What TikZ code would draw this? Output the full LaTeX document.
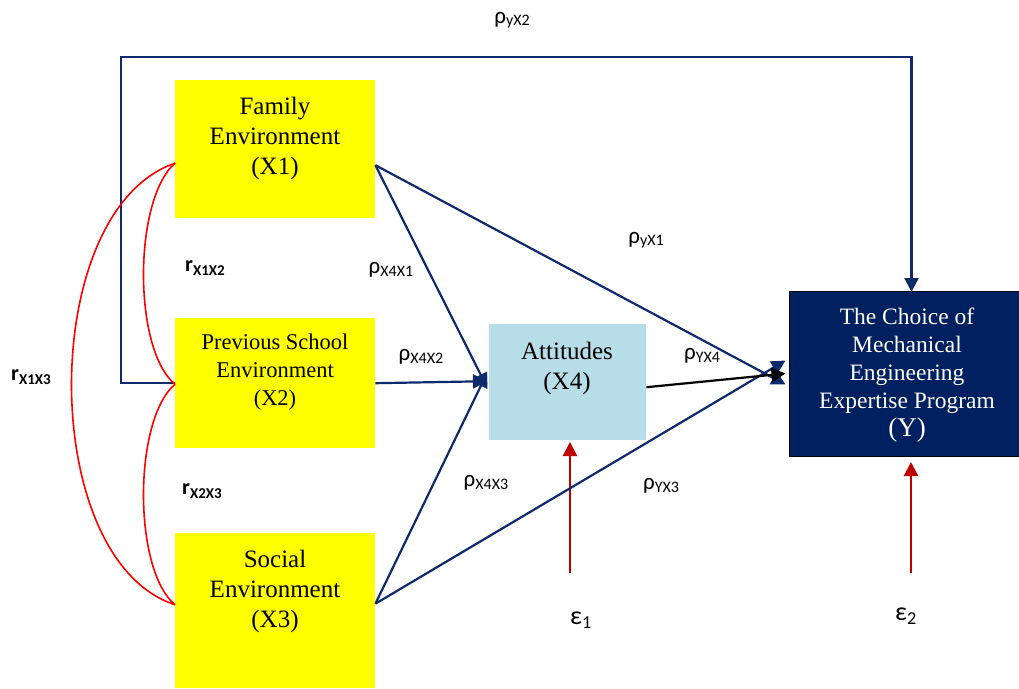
\documentclass[tikz,border=0pt]{standalone}
\usepackage{fontspec}
\setmainfont{Liberation Serif}
\newfontfamily\lab{Carlito}
\usetikzlibrary{arrows.meta,calc}
\definecolor{ylw}{HTML}{FFFF00}
\definecolor{lblue}{HTML}{B7DDE8}
\definecolor{navy}{HTML}{002060}
\definecolor{lnavy}{HTML}{0F2A6B}
\definecolor{dred}{HTML}{C00000}
\definecolor{rred}{HTML}{FF0000}
\newcommand{\sbs}[1]{\raisebox{-2.5pt}{\fontsize{16}{18}\selectfont #1}}
\newcommand{\rsbs}[1]{\raisebox{-4pt}{\fontsize{15}{18}\selectfont #1}}
\tikzset{
  box/.style={rectangle, inner sep=0pt, anchor=north west},
  txt/.style={align=center, inner sep=0pt},
  big/.style={font=\fontsize{25}{30}\selectfont},
  small/.style={font=\fontsize{22.5}{28}\selectfont},
  arr/.style={draw=lnavy, line width=2.2pt, -{Triangle[length=14pt,width=14pt]}},
  earr/.style={draw=dred, line width=2.2pt, -{Triangle[length=14pt,width=14pt]}},
  corr/.style={draw=rred, line width=1.6pt},
  lbl/.style={font=\lab\fontsize{23}{24}\selectfont, inner sep=0pt},
  rlbl/.style={font=\lab\bfseries\fontsize{22}{22}\selectfont, inner sep=0pt}
}
\begin{document}
\begin{tikzpicture}[x=1pt,y=-1pt]
\useasboundingbox (0,0) rectangle (1019,688);
% boxes
\node[box,fill=ylw,minimum width=200pt,minimum height=138pt] (X1) at (175,80) {};
\node[box,fill=ylw,minimum width=200pt,minimum height=130pt] (X2) at (175,318) {};
\node[box,fill=ylw,minimum width=200pt,minimum height=155pt] (X3) at (175,533) {};
\node[box,fill=lblue,minimum width=157pt,minimum height=116pt] (X4) at (489,324) {};
\node[box,fill=navy,draw=black,line width=1pt,minimum width=230pt,minimum height=165pt] (Y) at (788.5,290.5) {};
% box texts
\node[txt,big] (X1t) at (275,138) {Family\\Environment\\(X1)};
\node[txt,small] (X2t) at (275,372) {Previous School\\Environment\\(X2)};
\node[txt,big] (X3t) at (275,591) {Social\\Environment\\(X3)};
\node[txt,big] (X4t) at (567,368) {Attitudes\\(X4)};
\node[txt,font=\fontsize{23.5}{28}\selectfont,text=white] (Yt) at (907,375) {The Choice of\\Mechanical\\Engineering\\Expertise Program\\{\fontsize{27}{30}\selectfont(Y)}};
% error terms
\node[lbl,font=\lab\fontsize{26}{28}\selectfont] (e1) at (581,620) {ε\textsubscript{1}};
\node[lbl,font=\lab\fontsize{26}{28}\selectfont] (e2) at (906,616) {ε\textsubscript{2}};
\coordinate (e1t) at (570,573);
\coordinate (e2t) at (911,573);
\draw[earr] (e1t) -- (570,442);
\draw[earr] (e2t) -- (911,462);
% top path X2 -> Y
\draw[arr] (X2.west) -- ++(-54,0) -- ++(0,-326) -| ([xshift=7.5pt,yshift=-1.5pt]Y.north);
% correlations
\draw[corr] ([yshift=-14pt]X1.west) .. controls (133,200) and (133,350) .. ([yshift=-1pt]X2.west);
\draw[corr] ([yshift=-1pt]X2.west) .. controls (133,420) and (133,570) .. ([yshift=6pt]X3.west);
\draw[corr] ([yshift=-14pt]X1.west) .. controls (37,210) and (37,560) .. ([yshift=6pt]X3.west);
% paths
\draw[arr] ([yshift=-16pt]X1.east) -- ([xshift=-2pt,yshift=-5pt]X4.west);
\draw[arr] (X2.east) -- ([xshift=-2pt,yshift=1pt]X4.west);
\draw[arr] ([yshift=7pt]X3.east) -- ([xshift=-2pt,yshift=9pt]X4.west);
\draw[arr] ([yshift=-16pt]X1.east) -- ([xshift=-3pt,yshift=-11pt]Y.west);
\draw[arr] ([yshift=7pt]X3.east) -- ([xshift=-3pt,yshift=13pt]Y.west);
\draw[arr,draw=black] ([yshift=-5pt]X4.east) -- ([xshift=-3pt,yshift=0pt]Y.west);
% labels
\node[lbl] (lyx2) at (512,20) {ρ\sbs{yX2}};
\node[lbl] (lyx1) at (646,240) {ρ\sbs{yX1}};
\node[lbl] (lx4x1) at (391,270) {ρ\sbs{X4X1}};
\node[lbl] (lx4x2) at (421,357) {ρ\sbs{X4X2}};
\node[lbl] (lyx4) at (702,356) {ρ\sbs{YX4}};
\node[lbl] (lx4x3) at (486,483) {ρ\sbs{X4X3}};
\node[lbl] (lyx3) at (661,486) {ρ\sbs{YX3}};
\node[rlbl] (r12) at (205,268) {r\rsbs{X1X2}};
\node[rlbl] (r23) at (202,491) {r\rsbs{X2X3}};
\node[rlbl] (r13) at (31,377) {r\rsbs{X1X3}};
\end{tikzpicture}
\end{document}
